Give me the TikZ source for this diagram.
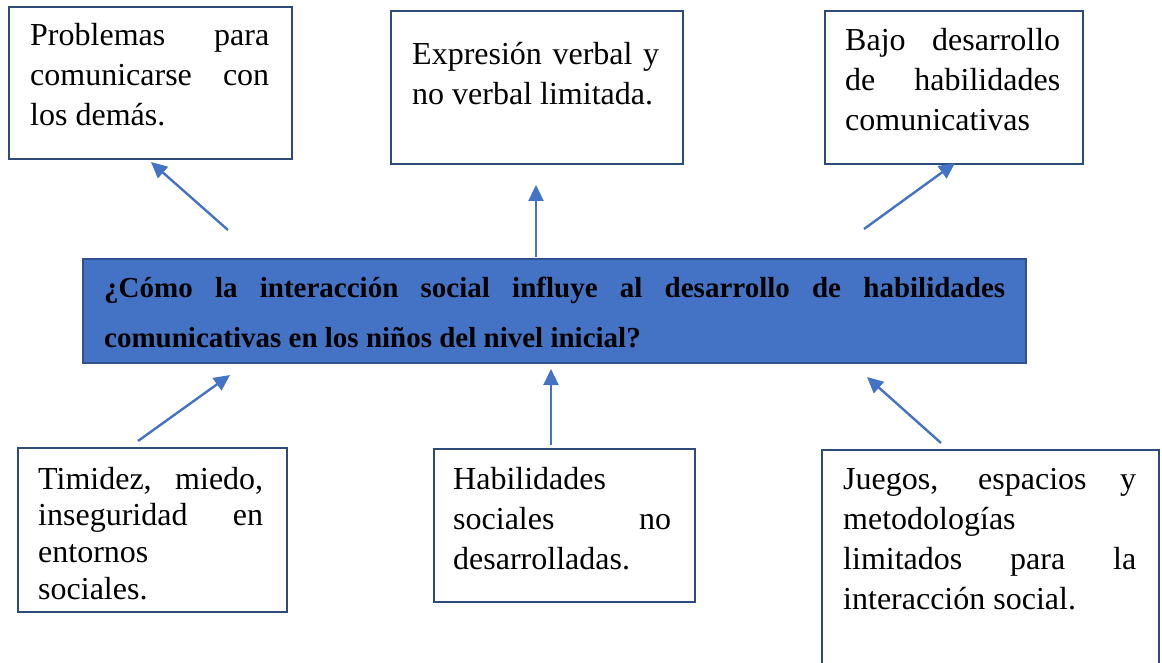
\documentclass[tikz,border=0pt]{standalone}
\usepackage{fontspec}
\setmainfont{Liberation Serif}
\usetikzlibrary{arrows.meta}
\definecolor{azul}{HTML}{4472C4}
\definecolor{borde}{HTML}{2F4B7C}
\definecolor{bordeazul}{HTML}{2F528F}
\tikzset{
	caja/.style={draw=borde, line width=2pt, anchor=north west, inner sep=0pt},
	texto/.style={anchor=base west, inner sep=0pt, align=justify, font=\fontsize{32pt}{40pt}\selectfont,
		execute at begin node={\tolerance=10000\hyphenpenalty=10000}},
	flecha/.style={draw=azul, line width=2.4pt, -{Triangle[length=16pt,width=15pt]}}
}

\begin{document}
\begin{tikzpicture}[x=1pt,y=-1pt]
		%%%%% START %%%%%
		\useasboundingbox (0,0) rectangle (1162,663);
		\clip (0,0) rectangle (1162,663);
		
		% pregunta central
		\node[caja, draw=bordeazul, fill=azul, minimum width=943, minimum height=104] (pregunta) at (82,258) {};
		\node[texto, text width=901, font={\bfseries\fontsize{29pt}{50pt}\selectfont}] (t-pregunta) at (104,297) {¿Cómo la interacción social influye al desarrollo de habilidades\linebreak comunicativas en los niños del nivel inicial?};
		
		% consecuencias
		\node[caja, minimum width=283, minimum height=152] (problemas) at (8,6) {};
		\node[texto, text width=239] (t-problemas) at (30,46) {Problemas para\linebreak comunicarse con\linebreak los demás.};
		
		\node[caja, minimum width=292, minimum height=153] (expresion) at (390,10) {};
		\node[texto, text width=247] (t-expresion) at (412,65) {Expresión verbal y\linebreak no verbal limitada.};
		
		\node[caja, minimum width=258, minimum height=153] (bajo) at (824,10) {};
		\node[texto, text width=215] (t-bajo) at (845,51) {Bajo desarrollo\linebreak de habilidades\linebreak comunicativas};
		
		% causas
		\node[caja, minimum width=269, minimum height=164] (timidez) at (17,447) {};
		\node[texto, text width=225, font={\fontsize{32pt}{36.7pt}\selectfont}] (t-timidez) at (38,489) {Timidez, miedo,\linebreak inseguridad en\linebreak entornos\newline sociales.};
		
		\node[caja, minimum width=261, minimum height=153] (habilidades) at (433,448) {};
		\node[texto, text width=218] (t-habilidades) at (453,489) {Habilidades\newline sociales no\linebreak desarrolladas.};
		
		\node[caja, minimum width=337, minimum height=260] (juegos) at (821,449) {};
		\node[texto, text width=293] (t-juegos) at (843,489) {Juegos, espacios y\linebreak metodologías\newline limitados para la\linebreak interacción social.};
		
		% flechas
		\coordinate (a-problemas) at (228,230);
		\coordinate (f-problemas) at (151,162);
		\coordinate (a-expresion) at (536,257);
		\coordinate (f-expresion) at (536,185);
		\coordinate (a-bajo) at (864,229);
		\coordinate (f-bajo) at (955,163);
		\coordinate (a-timidez) at (138,441);
		\coordinate (f-timidez) at (230,375);
		\coordinate (a-habilidades) at (551,445);
		\coordinate (f-habilidades) at (551,369);
		\coordinate (a-juegos) at (941,443);
		\coordinate (f-juegos) at (867,377);
		
		\draw[flecha] (a-problemas) -- (f-problemas);
		\draw[flecha] (a-expresion) -- (f-expresion);
		\draw[flecha] (a-bajo) -- (f-bajo);
		\draw[flecha] (a-timidez) -- (f-timidez);
		\draw[flecha] (a-habilidades) -- (f-habilidades);
		\draw[flecha] (a-juegos) -- (f-juegos);
		
		%%%%% END %%%%%
\end{tikzpicture}
\end{document}
